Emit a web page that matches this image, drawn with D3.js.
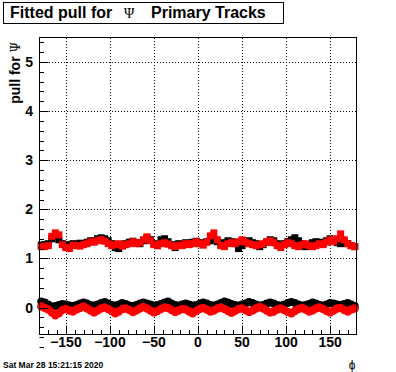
<!DOCTYPE html>
<html>
<head>
<meta charset="utf-8">
<script src="https://cdn.jsdelivr.net/npm/d3@7"></script>
<style>
  body { margin: 0; background: #fff; }
  svg { display: block; }
  text { font-family: "Liberation Sans", Arial, Helvetica, sans-serif; }
</style>
</head>
<body>
<div id="chart"></div>
<script>
// bin centres in phi (degrees), 4 degree bins
var phiBins = d3.range(-178, 180, 4);

// upper band, fitted pull
var upperBlack = [1.27, 1.28, 1.30, 1.40, 1.45, 1.38, 1.30, 1.25, 1.28, 1.30,
  1.29, 1.31, 1.30, 1.33, 1.36, 1.35, 1.40, 1.42, 1.40, 1.36,
  1.30, 1.22, 1.20, 1.26, 1.30, 1.33, 1.35, 1.32, 1.30, 1.36,
  1.42, 1.38, 1.30, 1.26, 1.38, 1.40, 1.34, 1.28, 1.22, 1.30,
  1.28, 1.32, 1.30, 1.33, 1.35, 1.30, 1.32, 1.34, 1.36, 1.40,
  1.34, 1.28, 1.32, 1.36, 1.34, 1.30, 1.20, 1.26, 1.33, 1.36,
  1.32, 1.30, 1.24, 1.28, 1.33, 1.38, 1.36, 1.30, 1.28, 1.30,
  1.34, 1.38, 1.42, 1.36, 1.30, 1.24, 1.28, 1.32, 1.34, 1.33,
  1.30, 1.36, 1.40, 1.36, 1.32, 1.30, 1.34, 1.30, 1.26, 1.24];
var upperRed = [1.24, 1.24, 1.26, 1.45, 1.52, 1.48, 1.28, 1.22, 1.20, 1.27,
  1.26, 1.25, 1.28, 1.30, 1.34, 1.33, 1.36, 1.38, 1.35, 1.30,
  1.26, 1.28, 1.30, 1.25, 1.28, 1.30, 1.34, 1.30, 1.32, 1.38,
  1.44, 1.36, 1.28, 1.26, 1.30, 1.32, 1.29, 1.26, 1.24, 1.27,
  1.26, 1.30, 1.28, 1.30, 1.34, 1.30, 1.27, 1.33, 1.46, 1.52,
  1.38, 1.26, 1.24, 1.30, 1.32, 1.30, 1.34, 1.38, 1.33, 1.30,
  1.28, 1.26, 1.28, 1.30, 1.34, 1.36, 1.32, 1.26, 1.22, 1.28,
  1.32, 1.30, 1.26, 1.24, 1.28, 1.30, 1.26, 1.24, 1.26, 1.30,
  1.28, 1.33, 1.38, 1.34, 1.40, 1.50, 1.38, 1.30, 1.26, 1.24];

// lower band
var lowerBlack = [0.12, 0.10, 0.06, 0.02, 0.03, 0.05, 0.07, 0.06, 0.04, 0.03,
  0.05, 0.08, 0.10, 0.08, 0.05, 0.04, 0.06, 0.09, 0.11, 0.08,
  0.05, 0.04, 0.06, 0.09, 0.07, 0.04, 0.03, 0.05, 0.08, 0.10,
  0.08, 0.06, 0.04, 0.05, 0.07, 0.10, 0.12, 0.08, 0.05, 0.04,
  0.06, 0.08, 0.06, 0.04, 0.05, 0.08, 0.10, 0.08, 0.05, 0.04,
  0.06, 0.09, 0.12, 0.10, 0.07, 0.05, 0.04, 0.06, 0.08, 0.11,
  0.09, 0.06, 0.04, 0.05, 0.08, 0.10, 0.08, 0.05, 0.04, 0.06,
  0.09, 0.11, 0.09, 0.06, 0.04, 0.05, 0.07, 0.10, 0.08, 0.05,
  0.04, 0.06, 0.09, 0.08, 0.06, 0.05, 0.07, 0.09, 0.06, 0.03];
var lowerRed = [0.02, -0.01, -0.04, -0.10, -0.16, -0.12, -0.05, -0.03, -0.06, -0.08,
  -0.04, -0.01, 0.02, -0.02, -0.06, -0.10, -0.06, -0.02, 0.00, -0.03,
  -0.07, -0.12, -0.08, -0.03, -0.02, -0.05, -0.09, -0.06, -0.02, 0.01,
  -0.02, -0.06, -0.10, -0.07, -0.03, 0.00, -0.01, -0.05, -0.09, -0.06,
  -0.03, -0.04, -0.08, -0.12, -0.07, -0.03, -0.01, -0.04, -0.08, -0.06,
  -0.02, 0.00, -0.03, -0.07, -0.11, -0.07, -0.03, -0.02, -0.05, -0.09,
  -0.06, -0.02, 0.01, -0.02, -0.06, -0.10, -0.08, -0.04, -0.02, -0.05,
  -0.09, -0.12, -0.07, -0.03, -0.01, -0.04, -0.08, -0.06, -0.02, 0.00,
  -0.03, -0.07, -0.10, -0.06, -0.02, -0.01, -0.05, -0.08, -0.04, -0.02];

var xTickValues = [-150, -100, -50, 0, 50, 100, 150];
var yTickValues = [0, 1, 2, 3, 4, 5];

var width = 396,
    height = 372;
var frame = { left: 39.5, right: 356.5, top: 37.5, bottom: 334.5 };

var svg = d3.select("#chart")
  .append("svg")
    .attr("width", width)
    .attr("height", height);

var xScale = d3.scaleLinear()
  .domain([-180, 180])
  .range([frame.left, frame.right]);
var yScale = d3.scaleLinear()
  .domain([-0.55, 5.5])
  .range([frame.bottom, frame.top]);

// dotted grid
var grid = svg.append("g")
  .attr("stroke", "#000")
  .attr("stroke-width", 1)
  .attr("shape-rendering", "crispEdges")
  .attr("stroke-dasharray", "1,2");
grid.selectAll("line.gx")
  .data(xTickValues)
  .enter()
    .append("line")
    .attr("x1", function(d) { return Math.round(xScale(d)) + 0.5; })
    .attr("x2", function(d) { return Math.round(xScale(d)) + 0.5; })
    .attr("y1", frame.top)
    .attr("y2", frame.bottom);
grid.selectAll("line.gy")
  .data(yTickValues)
  .enter()
    .append("line")
    .attr("x1", frame.left)
    .attr("x2", frame.right)
    .attr("y1", function(d) { return Math.round(yScale(d)) + 0.5; })
    .attr("y2", function(d) { return Math.round(yScale(d)) + 0.5; });

// markers
function drawSquares(values, color, size) {
  svg.append("g")
    .selectAll("rect")
    .data(values)
    .enter()
      .append("rect")
      .attr("x", function(d, i) { return xScale(phiBins[i]) - size / 2; })
      .attr("y", function(d) { return yScale(d) - size / 2; })
      .attr("width", size)
      .attr("height", size)
      .attr("fill", color);
}
function drawCircles(values, color, r) {
  svg.append("g")
    .selectAll("circle")
    .data(values)
    .enter()
      .append("circle")
      .attr("cx", function(d, i) { return xScale(phiBins[i]); })
      .attr("cy", function(d) { return yScale(d); })
      .attr("r", r)
      .attr("fill", color);
}
drawSquares(upperBlack, "#000", 7);
drawSquares(upperRed, "#ff0000", 7);
drawCircles(lowerBlack, "#000", 4);
drawCircles(lowerRed, "#ff0000", 4.2);

// frame
svg.append("rect")
  .attr("x", frame.left)
  .attr("y", frame.top)
  .attr("width", frame.right - frame.left)
  .attr("height", frame.bottom - frame.top)
  .attr("fill", "none")
  .attr("stroke", "#000")
  .attr("stroke-width", 1);

// x axis ticks (inside, upward)
var xMinor = d3.range(-170, 180, 10);
svg.append("g")
  .selectAll("line")
  .data(xMinor)
  .enter()
    .append("line")
    .attr("x1", function(d) { return Math.round(xScale(d)) + 0.5; })
    .attr("x2", function(d) { return Math.round(xScale(d)) + 0.5; })
    .attr("y1", frame.bottom)
    .attr("y2", function(d) { return frame.bottom - (d % 50 === 0 ? 9 : 4.5); })
    .attr("stroke", "#000");

svg.append("g")
  .selectAll("text")
  .data(xTickValues)
  .enter()
    .append("text")
    .attr("x", function(d) { return xScale(d); })
    .attr("y", 347)
    .attr("text-anchor", "middle")
    .attr("font-size", "14px")
    .attr("font-weight", "bold")
    .text(function(d) { return d < 0 ? "\u2212" + Math.abs(d) : d; });

// y axis ticks (inside, rightward)
var yMinor = d3.range(-4, 28, 1).map(function(k) { return k / 5; });
svg.append("g")
  .selectAll("line")
  .data(yMinor)
  .enter()
    .append("line")
    .attr("x1", frame.left)
    .attr("x2", function(d) { return frame.left + (Math.abs(d - Math.round(d)) < 1e-6 ? 9 : 4.5); })
    .attr("y1", function(d) { return Math.round(yScale(d)) + 0.5; })
    .attr("y2", function(d) { return Math.round(yScale(d)) + 0.5; })
    .attr("stroke", "#000");

svg.append("g")
  .selectAll("text")
  .data(yTickValues)
  .enter()
    .append("text")
    .attr("x", 33)
    .attr("y", function(d) { return yScale(d) + 5; })
    .attr("text-anchor", "end")
    .attr("font-size", "14px")
    .attr("font-weight", "bold")
    .text(function(d) { return d; });

// axis titles
var yTitle = svg.append("text")
  .attr("transform", "translate(20,42) rotate(-90)")
  .attr("text-anchor", "end")
  .attr("font-size", "14px")
  .attr("font-weight", "bold");
yTitle.append("tspan").text("pull for ");
yTitle.append("tspan")
  .attr("font-family", "'DejaVu Serif', 'Liberation Serif', serif")
  .attr("font-weight", "normal")
  .attr("font-size", "12px")
  .text("\u03A8");

svg.append("text")
  .attr("x", 352)
  .attr("y", 369)
  .attr("text-anchor", "middle")
  .attr("font-family", "'DejaVu Serif', 'Liberation Serif', serif")
  .attr("font-size", "12px")
  .text("\u03D5");

// title box
svg.append("rect")
  .attr("x", 3.5)
  .attr("y", 2.5)
  .attr("width", 280)
  .attr("height", 21)
  .attr("fill", "#fff")
  .attr("stroke", "#000");
var title = svg.append("text")
  .attr("x", 10)
  .attr("y", 18)
  .attr("font-size", "16px")
  .attr("font-weight", "bold");
title.append("tspan").text("Fitted pull for");
title.append("tspan")
  .attr("x", 124)
  .attr("font-family", "'Liberation Serif', 'DejaVu Serif', serif")
  .attr("font-weight", "normal")
  .attr("font-size", "14px")
  .text("\u03A8");
title.append("tspan")
  .attr("x", 151)
  .text("Primary Tracks");

// date stamp
svg.append("text")
  .attr("x", 3)
  .attr("y", 368)
  .attr("font-size", "8.5px")
  .attr("font-weight", "bold")
  .text("Sat Mar 28 15:21:15 2020");
</script>
</body>
</html>
